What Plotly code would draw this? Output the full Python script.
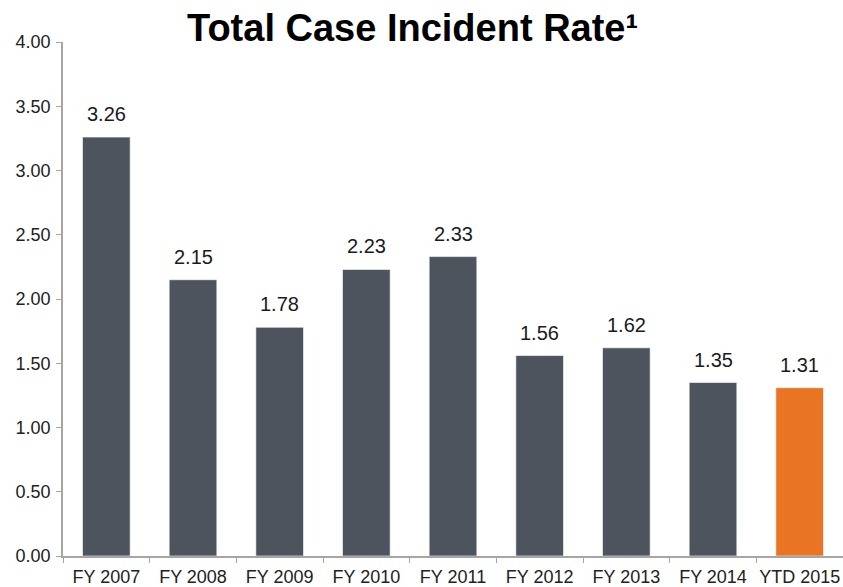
import plotly.graph_objects as go

categories = ["FY 2007", "FY 2008", "FY 2009", "FY 2010", "FY 2011",
              "FY 2012", "FY 2013", "FY 2014", "YTD 2015"]
rates = [3.26, 2.15, 1.78, 2.23, 2.33, 1.56, 1.62, 1.35, 1.31]
y_ticks = [0, 0.5, 1.0, 1.5, 2.0, 2.5, 3.0, 3.5, 4.0]

FONT = "Liberation Sans, Arial, sans-serif"
gray = "#4E545E"
orange = "#E87424"
colors = [gray] * (len(categories) - 1) + [orange]

fig = go.Figure(
    go.Bar(
        x=categories,
        y=rates,
        marker=dict(color=colors, line=dict(color="rgba(255,255,255,0.6)", width=1)),
        width=0.55,
        hoverinfo="x+y",
    )
)

# value labels floating above each bar
value_labels = [
    dict(
        x=c, y=v, xref="x", yref="y",
        text=f"{v:.2f}",
        showarrow=False,
        xanchor="center", yanchor="bottom",
        yshift=10,
        font=dict(family=FONT, size=20, color="#1a1a1a"),
    )
    for c, v in zip(categories, rates)
]

title = dict(
    text="<b>Total Case Incident Rate¹</b>",
    xref="paper", yref="paper",
    x=0.448, y=1.0, xanchor="center", yanchor="bottom",
    yshift=-9,
    showarrow=False,
    font=dict(family=FONT, size=38, color="#000000"),
)

fig.update_layout(
    width=843,
    height=587,
    margin=dict(l=63, r=0, t=42, b=31),
    plot_bgcolor="white",
    paper_bgcolor="white",
    showlegend=False,
    font=dict(family=FONT, size=18, color="#222222"),
    annotations=[title] + value_labels,
)

fig.update_xaxes(
    showline=True, linecolor="#A6A6A6", linewidth=1.5,
    ticks="outside", tickson="boundaries", ticklen=5, tickcolor="#A6A6A6",
    tickfont=dict(family=FONT, size=18, color="#222222"),
    tickangle=0, automargin=False, ticklabelstandoff=4,
    showgrid=False,
)
fig.update_yaxes(
    range=[0, 4.0], tickvals=y_ticks, tickformat=".2f",
    showline=True, linecolor="#A6A6A6", linewidth=1.5,
    ticks="outside", ticklen=5, tickcolor="#A6A6A6",
    tickfont=dict(family=FONT, size=18, color="#222222"),
    ticklabelstandoff=2, automargin=False,
    showgrid=False, zeroline=False,
)

fig.write_html("out.html")
